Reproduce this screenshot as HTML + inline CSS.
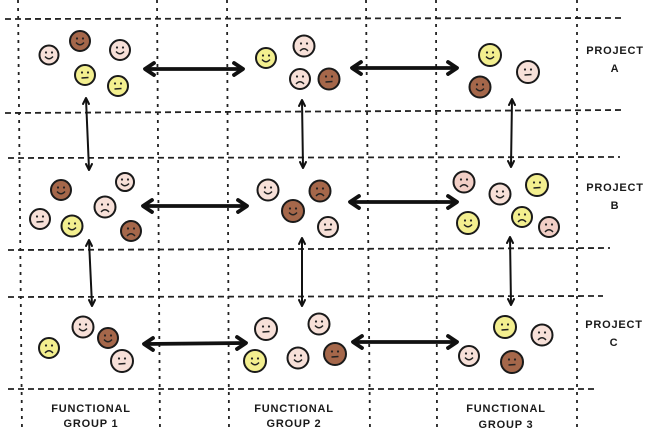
<!DOCTYPE html>
<html><head><meta charset="utf-8"><style>
html,body{margin:0;padding:0;background:#fff;}
svg{display:block;}
text{font-family:"Liberation Sans",sans-serif;font-size:11px;font-weight:bold;fill:#1a1a1a;letter-spacing:0.8px;text-anchor:middle;}
</style></head><body>
<svg width="648" height="432" viewBox="0 0 648 432" xmlns="http://www.w3.org/2000/svg">
<defs>
<g id="smile"><circle cx="-3" cy="-2.5" r="1.1" fill="#222"/><circle cx="3" cy="-2.5" r="1.1" fill="#222"/><path d="M-4,1.5 Q0,6 4,1.5" fill="none" stroke="#222" stroke-width="1.4"/></g>
<g id="flat"><circle cx="-3" cy="-2.5" r="1.1" fill="#222"/><circle cx="3" cy="-2.5" r="1.1" fill="#222"/><path d="M-3.5,3 L3.5,2.5" fill="none" stroke="#222" stroke-width="1.4"/></g>
<g id="frown"><circle cx="-3" cy="-2.5" r="1.1" fill="#222"/><circle cx="3" cy="-2.5" r="1.1" fill="#222"/><path d="M-4,5 Q0,0.5 4,5" fill="none" stroke="#222" stroke-width="1.4"/></g>
</defs>

<!-- horizontal dashed grid lines -->
<g stroke="#222" stroke-width="1.8" stroke-dasharray="6 4" fill="none">
<line x1="5" y1="19" x2="625" y2="18"/>
<line x1="5" y1="113" x2="625" y2="110"/>
<line x1="8" y1="158" x2="620" y2="157"/>
<line x1="8" y1="250" x2="610" y2="248"/>
<line x1="8" y1="297" x2="603" y2="296"/>
<line x1="8" y1="389" x2="597" y2="389"/>
</g>
<!-- vertical dashed grid lines -->
<g stroke="#222" stroke-width="1.8" stroke-dasharray="3 5" fill="none">
<line x1="18" y1="0" x2="22" y2="432"/>
<line x1="157" y1="0" x2="160" y2="432"/>
<line x1="227" y1="0" x2="229" y2="432"/>
<line x1="366" y1="0" x2="370" y2="432"/>
<line x1="436" y1="0" x2="437" y2="432"/>
<line x1="577" y1="0" x2="577" y2="432"/>
</g>

<!-- thick horizontal arrows -->
<g stroke="#111" stroke-width="3.8" fill="none" stroke-linecap="round" stroke-linejoin="round">
<line x1="146" y1="69" x2="242" y2="69"/><path d="M154,63 L145,69 L154,75"/><path d="M234,63 L243,69 L234,75"/>
<line x1="353" y1="68" x2="456" y2="68"/><path d="M361,62 L352,68 L361,74"/><path d="M448,62 L457,68 L448,74"/>
<line x1="144" y1="206" x2="246" y2="206"/><path d="M152,200 L143,206 L152,212"/><path d="M238,200 L247,206 L238,212"/>
<line x1="351" y1="202" x2="456" y2="202"/><path d="M359,196 L350,202 L359,208"/><path d="M448,196 L457,202 L448,208"/>
<line x1="145" y1="344" x2="245" y2="343"/><path d="M153,338 L144,344 L153,350"/><path d="M237,337 L246,343 L237,349"/>
<line x1="354" y1="342" x2="456" y2="342"/><path d="M362,336 L353,342 L362,348"/><path d="M448,336 L457,342 L448,348"/>
</g>
<!-- thin vertical arrows -->
<g stroke="#111" stroke-width="2" fill="none" stroke-linecap="round" stroke-linejoin="round">
<line x1="86" y1="99" x2="89" y2="169"/><path d="M83,104 L86,98 L89,104"/><path d="M86,164 L89,170 L92,164"/>
<line x1="302" y1="101" x2="303" y2="167"/><path d="M299,106 L302,100 L305,106"/><path d="M300,162 L303,168 L306,162"/>
<line x1="512" y1="100" x2="511" y2="166"/><path d="M509,105 L512,99 L515,105"/><path d="M508,161 L511,167 L514,161"/>
<line x1="89" y1="241" x2="92" y2="305"/><path d="M86,246 L89,240 L92,246"/><path d="M89,300 L92,306 L95,300"/>
<line x1="302" y1="239" x2="302" y2="305"/><path d="M299,244 L302,238 L305,244"/><path d="M299,300 L302,306 L305,300"/>
<line x1="510" y1="238" x2="511" y2="304"/><path d="M507,243 L510,237 L513,243"/><path d="M508,299 L511,305 L514,299"/>
</g>

<!-- faces -->
<g stroke="#1a1a1a" stroke-width="2">
<!-- Row A -->
<g transform="translate(49,55)"><circle r="9.5" fill="#f7e0d8"/><use href="#smile" stroke="none"/></g>
<g transform="translate(80,41)"><circle r="10" fill="#a5674a"/><use href="#smile" stroke="none"/></g>
<g transform="translate(120,50)"><circle r="10" fill="#f7e0d8"/><use href="#smile" stroke="none"/></g>
<g transform="translate(85,75)"><circle r="10" fill="#f3ef8f"/><use href="#flat" stroke="none"/></g>
<g transform="translate(118,86)"><circle r="10" fill="#f3ef8f"/><use href="#flat" stroke="none"/></g>

<g transform="translate(266,58)"><circle r="10" fill="#f3ef8f"/><use href="#smile" stroke="none"/></g>
<g transform="translate(304,46)"><circle r="10.5" fill="#f7e0d8"/><use href="#frown" stroke="none"/></g>
<g transform="translate(300,79)"><circle r="10" fill="#f7e0d8"/><use href="#frown" stroke="none"/></g>
<g transform="translate(329,79)"><circle r="10.5" fill="#a5674a"/><use href="#flat" stroke="none"/></g>

<g transform="translate(490,55)"><circle r="11" fill="#f3ef8f"/><use href="#smile" stroke="none"/></g>
<g transform="translate(528,72)"><circle r="11" fill="#f7e0d8"/><use href="#flat" stroke="none"/></g>
<g transform="translate(480,87)"><circle r="10.5" fill="#a5674a"/><use href="#smile" stroke="none"/></g>

<!-- Row B -->
<g transform="translate(61,190)"><circle r="10" fill="#a5674a"/><use href="#smile" stroke="none"/></g>
<g transform="translate(125,182)"><circle r="9" fill="#f7e0d8"/><use href="#smile" stroke="none"/></g>
<g transform="translate(105,207)"><circle r="10.5" fill="#f7e0d8"/><use href="#frown" stroke="none"/></g>
<g transform="translate(40,219)"><circle r="10" fill="#f7e0d8"/><use href="#flat" stroke="none"/></g>
<g transform="translate(72,226)"><circle r="10.5" fill="#f3ef8f"/><use href="#smile" stroke="none"/></g>
<g transform="translate(131,231)"><circle r="10" fill="#a5674a"/><use href="#frown" stroke="none"/></g>

<g transform="translate(268,190)"><circle r="10.5" fill="#f7e0d8"/><use href="#smile" stroke="none"/></g>
<g transform="translate(320,191)"><circle r="10.5" fill="#a5674a"/><use href="#frown" stroke="none"/></g>
<g transform="translate(293,211)"><circle r="11" fill="#a5674a"/><use href="#smile" stroke="none"/></g>
<g transform="translate(328,227)"><circle r="10" fill="#f7e0d8"/><use href="#flat" stroke="none"/></g>

<g transform="translate(464,182)"><circle r="10.5" fill="#f2cfc6"/><use href="#frown" stroke="none"/></g>
<g transform="translate(500,194)"><circle r="10.5" fill="#f7e0d8"/><use href="#smile" stroke="none"/></g>
<g transform="translate(537,185)"><circle r="11" fill="#f3ef8f"/><use href="#flat" stroke="none"/></g>
<g transform="translate(468,223)"><circle r="11" fill="#f3ef8f"/><use href="#smile" stroke="none"/></g>
<g transform="translate(522,217)"><circle r="10" fill="#f3ef8f"/><use href="#frown" stroke="none"/></g>
<g transform="translate(549,227)"><circle r="10" fill="#f2cfc6"/><use href="#frown" stroke="none"/></g>

<!-- Row C -->
<g transform="translate(83,327)"><circle r="10.5" fill="#f7e0d8"/><use href="#smile" stroke="none"/></g>
<g transform="translate(108,338)"><circle r="10" fill="#a5674a"/><use href="#smile" stroke="none"/></g>
<g transform="translate(49,348)"><circle r="10" fill="#f3ef8f"/><use href="#frown" stroke="none"/></g>
<g transform="translate(122,361)"><circle r="11" fill="#f7e0d8"/><use href="#flat" stroke="none"/></g>

<g transform="translate(266,329)"><circle r="11" fill="#f7e0d8"/><use href="#flat" stroke="none"/></g>
<g transform="translate(319,324)"><circle r="10.5" fill="#f7e0d8"/><use href="#smile" stroke="none"/></g>
<g transform="translate(255,361)"><circle r="11" fill="#f3ef8f"/><use href="#smile" stroke="none"/></g>
<g transform="translate(298,358)"><circle r="10.5" fill="#f7e0d8"/><use href="#smile" stroke="none"/></g>
<g transform="translate(335,354)"><circle r="11" fill="#a5674a"/><use href="#flat" stroke="none"/></g>

<g transform="translate(505,327)"><circle r="11" fill="#f3ef8f"/><use href="#flat" stroke="none"/></g>
<g transform="translate(542,335)"><circle r="10.5" fill="#f7e0d8"/><use href="#frown" stroke="none"/></g>
<g transform="translate(469,356)"><circle r="10" fill="#f7e0d8"/><use href="#smile" stroke="none"/></g>
<g transform="translate(512,362)"><circle r="11" fill="#a5674a"/><use href="#flat" stroke="none"/></g>
</g>

<!-- labels -->
<text x="615" y="54">PROJECT</text>
<text x="615" y="72">A</text>
<text x="615" y="191">PROJECT</text>
<text x="615" y="209">B</text>
<text x="614" y="328">PROJECT</text>
<text x="614" y="346">C</text>

<text x="91" y="412">FUNCTIONAL</text>
<text x="91" y="427">GROUP 1</text>
<text x="294" y="412">FUNCTIONAL</text>
<text x="294" y="427">GROUP 2</text>
<text x="506" y="412">FUNCTIONAL</text>
<text x="506" y="428">GROUP 3</text>
</svg>
</body></html>
